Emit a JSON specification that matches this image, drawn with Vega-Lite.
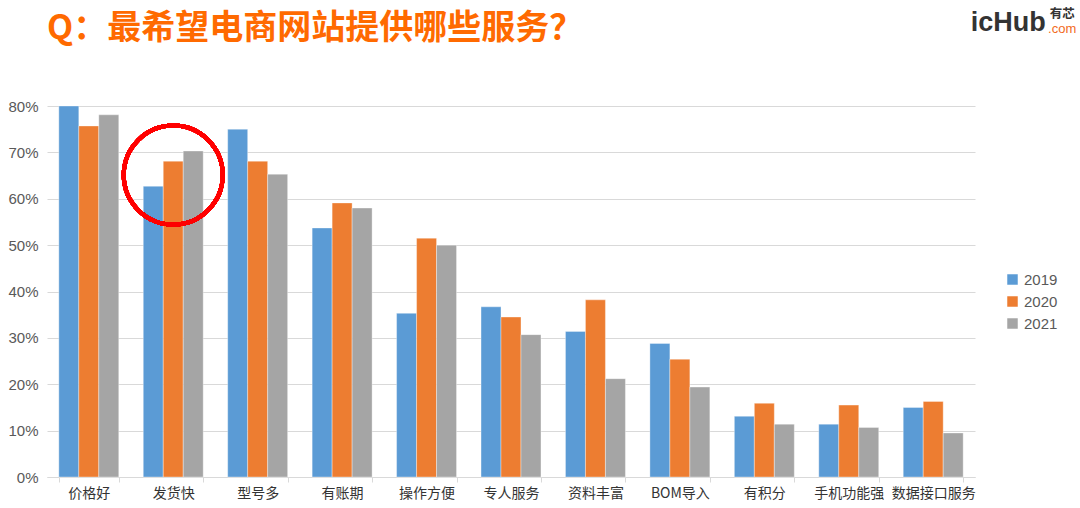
{
  "$schema": "https://vega.github.io/schema/vega-lite/v6.json",
  "autosize": "none",
  "width": 928,
  "height": 371,
  "padding": {"left": 47, "top": 106, "right": 105, "bottom": 31},
  "background": "white",
  "config": {"view": {"stroke": null}},
  "title": {
    "text": "Q：最希望电商网站提供哪些服务？",
    "anchor": "start",
    "frame": "group",
    "offset": -38,
    "font": "Noto Sans CJK SC",
    "fontSize": 34,
    "fontWeight": "bold",
    "color": "#FF6A00"
  },
  "data": {
    "values": [
      {"item": "价格好", "year": "2019", "value": 0.800},
      {"item": "价格好", "year": "2020", "value": 0.757},
      {"item": "价格好", "year": "2021", "value": 0.781},
      {"item": "发货快", "year": "2019", "value": 0.627},
      {"item": "发货快", "year": "2020", "value": 0.681},
      {"item": "发货快", "year": "2021", "value": 0.703},
      {"item": "型号多", "year": "2019", "value": 0.750},
      {"item": "型号多", "year": "2020", "value": 0.681},
      {"item": "型号多", "year": "2021", "value": 0.653},
      {"item": "有账期", "year": "2019", "value": 0.537},
      {"item": "有账期", "year": "2020", "value": 0.591},
      {"item": "有账期", "year": "2021", "value": 0.580},
      {"item": "操作方便", "year": "2019", "value": 0.353},
      {"item": "操作方便", "year": "2020", "value": 0.515},
      {"item": "操作方便", "year": "2021", "value": 0.500},
      {"item": "专人服务", "year": "2019", "value": 0.367},
      {"item": "专人服务", "year": "2020", "value": 0.345},
      {"item": "专人服务", "year": "2021", "value": 0.307},
      {"item": "资料丰富", "year": "2019", "value": 0.314},
      {"item": "资料丰富", "year": "2020", "value": 0.382},
      {"item": "资料丰富", "year": "2021", "value": 0.212},
      {"item": "BOM导入", "year": "2019", "value": 0.288},
      {"item": "BOM导入", "year": "2020", "value": 0.254},
      {"item": "BOM导入", "year": "2021", "value": 0.194},
      {"item": "有积分", "year": "2019", "value": 0.131},
      {"item": "有积分", "year": "2020", "value": 0.159},
      {"item": "有积分", "year": "2021", "value": 0.114},
      {"item": "手机功能强", "year": "2019", "value": 0.114},
      {"item": "手机功能强", "year": "2020", "value": 0.155},
      {"item": "手机功能强", "year": "2021", "value": 0.107},
      {"item": "数据接口服务", "year": "2019", "value": 0.150},
      {"item": "数据接口服务", "year": "2020", "value": 0.163},
      {"item": "数据接口服务", "year": "2021", "value": 0.095}
    ]
  },
  "layer": [
    {
      "mark": {"type": "bar", "stroke": "white", "strokeWidth": 0.6, "strokeOpacity": 0.6},
      "encoding": {
        "x": {
          "field": "item",
          "type": "nominal",
          "sort": null,
          "scale": {"paddingInner": 0.29, "paddingOuter": 0.14},
          "axis": {
            "title": null,
            "labelAngle": 0,
            "labelFont": "Noto Sans CJK SC",
            "labelFontSize": 14,
            "labelColor": "#333333",
            "labelPadding": 4,
            "domainColor": "#d9d9d9",
            "tickColor": "#d9d9d9",
            "tickBand": "extent",
            "tickSize": 5
          }
        },
        "xOffset": {"field": "year", "type": "nominal", "scale": {"paddingInner": 0, "paddingOuter": 0}},
        "y": {
          "field": "value",
          "type": "quantitative",
          "scale": {"domain": [0, 0.8], "nice": false},
          "axis": {
            "title": null,
            "format": ".0%",
            "values": [0, 0.1, 0.2, 0.3, 0.4, 0.5, 0.6, 0.7, 0.8],
            "labelFont": "Liberation Sans",
            "labelFontSize": 15,
            "labelColor": "#595959",
            "labelPadding": 9,
            "ticks": false,
            "domain": false,
            "gridColor": "#d9d9d9",
            "gridWidth": 1
          }
        },
        "color": {
          "field": "year",
          "type": "nominal",
          "scale": {"domain": ["2019", "2020", "2021"], "range": ["#5B9BD5", "#ED7D31", "#A5A5A5"]},
          "legend": {
            "title": null,
            "orient": "none",
            "legendX": 958,
            "legendY": 166,
            "symbolType": "square",
            "symbolSize": 110,
            "symbolStrokeWidth": 0,
            "rowPadding": 6,
            "labelFont": "Liberation Sans",
            "labelFontSize": 15,
            "labelColor": "#595959"
          }
        }
      }
    },
    {
      "mark": {"type": "point", "shape": "circle", "filled": false, "stroke": "#FF0000", "strokeWidth": 4, "size": 9800, "clip": false},
      "encoding": {
        "x": {"datum": "发货快"},
        "y": {"datum": 0.651}
      }
    },
    {
      "data": {"values": [{"logo": "icHub"}]},
      "mark": {"type": "text", "clip": false, "font": "Liberation Sans", "fontSize": 27, "fontWeight": "bold", "color": "#333333", "dx": 75, "align": "center", "baseline": "middle"},
      "encoding": {
        "x": {"datum": "数据接口服务"},
        "y": {"datum": 0.98},
        "text": {"field": "logo"}
      }
    },
    {
      "data": {"values": [{"logo": "有芯"}]},
      "mark": {"type": "text", "clip": false, "font": "Noto Sans CJK SC", "fontSize": 12.5, "fontWeight": "bold", "color": "#333333", "dx": 129, "align": "center", "baseline": "middle"},
      "encoding": {
        "x": {"datum": "数据接口服务"},
        "y": {"datum": 0.999},
        "text": {"field": "logo"}
      }
    },
    {
      "data": {"values": [{"logo": ".com"}]},
      "mark": {"type": "text", "clip": false, "font": "Liberation Sans", "fontSize": 13, "color": "#F26B1D", "dx": 129, "align": "center", "baseline": "middle"},
      "encoding": {
        "x": {"datum": "数据接口服务"},
        "y": {"datum": 0.966},
        "text": {"field": "logo"}
      }
    }
  ]
}
